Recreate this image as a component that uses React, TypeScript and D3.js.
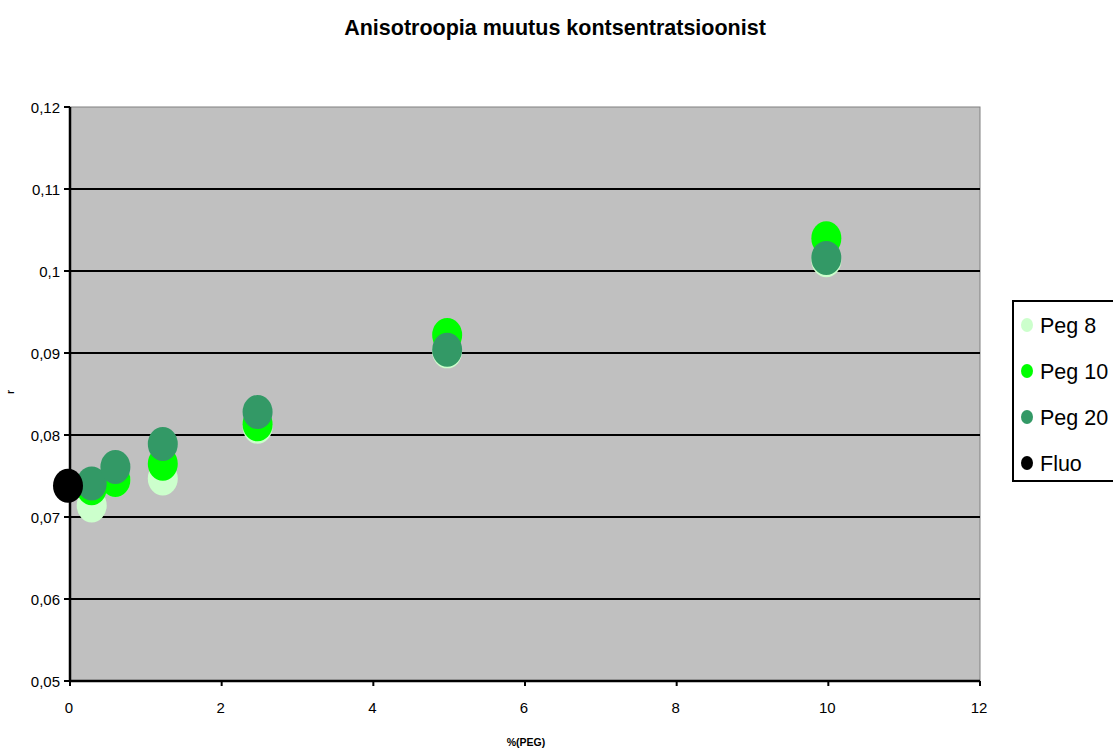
import React from "react";
import * as d3 from "d3";

const xValues = [0.3125, 0.625, 1.25, 2.5, 5, 10];
const peg8 = [0.0714, 0.0745, 0.0747, 0.081, 0.0902, 0.1013];
const peg10 = [0.0735, 0.0745, 0.0765, 0.0813, 0.0922, 0.104];
const peg20 = [0.0741, 0.0761, 0.0789, 0.0828, 0.0904, 0.1016];
const fluoX = [0];
const fluoY = [0.0738];
const xTicks = [0, 2, 4, 6, 8, 10, 12];
const yTicks = [0.05, 0.06, 0.07, 0.08, 0.09, 0.1, 0.11, 0.12];
const seriesNames = ["Peg 8", "Peg 10", "Peg 20", "Fluo"];
const seriesColors = ["#ccffcc", "#00ff00", "#339966", "#000000"];

const W = 1113, H = 749;
const L = 70, R = 980, T = 107, B = 681;
const font = "'Liberation Sans', Arial, sans-serif";

export default function App() {
  const x = d3.scaleLinear().domain([0, 12]).range([L - 2, R - 2]);
  const xAxis = d3.scaleLinear().domain([0, 12]).range([L, R]);
  const y = d3.scaleLinear().domain([0.05, 0.12]).range([B, T]);
  const yLabel = (v: number) => {
    let s = v.toFixed(2);
    if (s.endsWith("0")) s = s.slice(0, -1);
    return s.replace(".", ",");
  };
  const series = [
    { name: seriesNames[0], color: seriesColors[0], xs: xValues, ys: peg8 },
    { name: seriesNames[1], color: seriesColors[1], xs: xValues, ys: peg10 },
    { name: seriesNames[2], color: seriesColors[2], xs: xValues, ys: peg20 },
    { name: seriesNames[3], color: seriesColors[3], xs: fluoX, ys: fluoY },
  ];
  return (
    <svg width={W} height={H} style={{ position: "absolute", left: 0, top: 0, background: "#fff" }} fontFamily={font}>
      <text x={555} y={35} textAnchor="middle" fontSize={21.5} fontWeight="bold">Anisotroopia muutus kontsentratsioonist</text>
      <rect x={L} y={T} width={R - L} height={B - T} fill="#c0c0c0" stroke="#808080" strokeWidth={1} />
      {yTicks.map((t) => (
        <g key={t}>
          {t > 0.05 && t < 0.12 && (
            <line x1={L} x2={R} y1={y(t)} y2={y(t)} stroke="#000" strokeWidth={2} />
          )}
          <line x1={L - 6} x2={L} y1={y(t)} y2={y(t)} stroke="#000" strokeWidth={2} />
          <text x={60} y={y(t) + 5.5} textAnchor="end" fontSize={15}>{yLabel(t)}</text>
        </g>
      ))}
      <line x1={L} x2={L} y1={T} y2={B} stroke="#000" strokeWidth={2.5} />
      <line x1={L} x2={R} y1={B} y2={B} stroke="#000" strokeWidth={2.5} />
      {xTicks.map((t) => (
        <g key={t}>
          <line x1={xAxis(t)} x2={xAxis(t)} y1={B} y2={B + 5} stroke="#000" strokeWidth={2} />
          <text x={xAxis(t) - 1} y={713} textAnchor="middle" fontSize={15}>{t}</text>
        </g>
      ))}
      <text x={526} y={746} textAnchor="middle" fontSize={10.5} fontWeight="bold">%(PEG)</text>
      <text transform={`translate(14,392) rotate(-90)`} textAnchor="middle" fontSize={10} fontWeight="bold">r</text>
      {series.map((s) => (
        <g key={s.name}>
          {s.xs.map((xv, i) => (
            <ellipse key={i} cx={x(xv)} cy={y(s.ys[i])} rx={15} ry={17} fill={s.color} />
          ))}
        </g>
      ))}
      <rect x={1013} y={301} width={110} height={180} fill="#fff" stroke="#000" strokeWidth={2} />
      {series.map((s, i) => (
        <g key={s.name}>
          <ellipse cx={1027} cy={325 + i * 46} rx={6} ry={7} fill={s.color} />
          <text x={1040} y={325 + i * 46 + 7.5} fontSize={21.5}>{s.name}</text>
        </g>
      ))}
    </svg>
  );
}
